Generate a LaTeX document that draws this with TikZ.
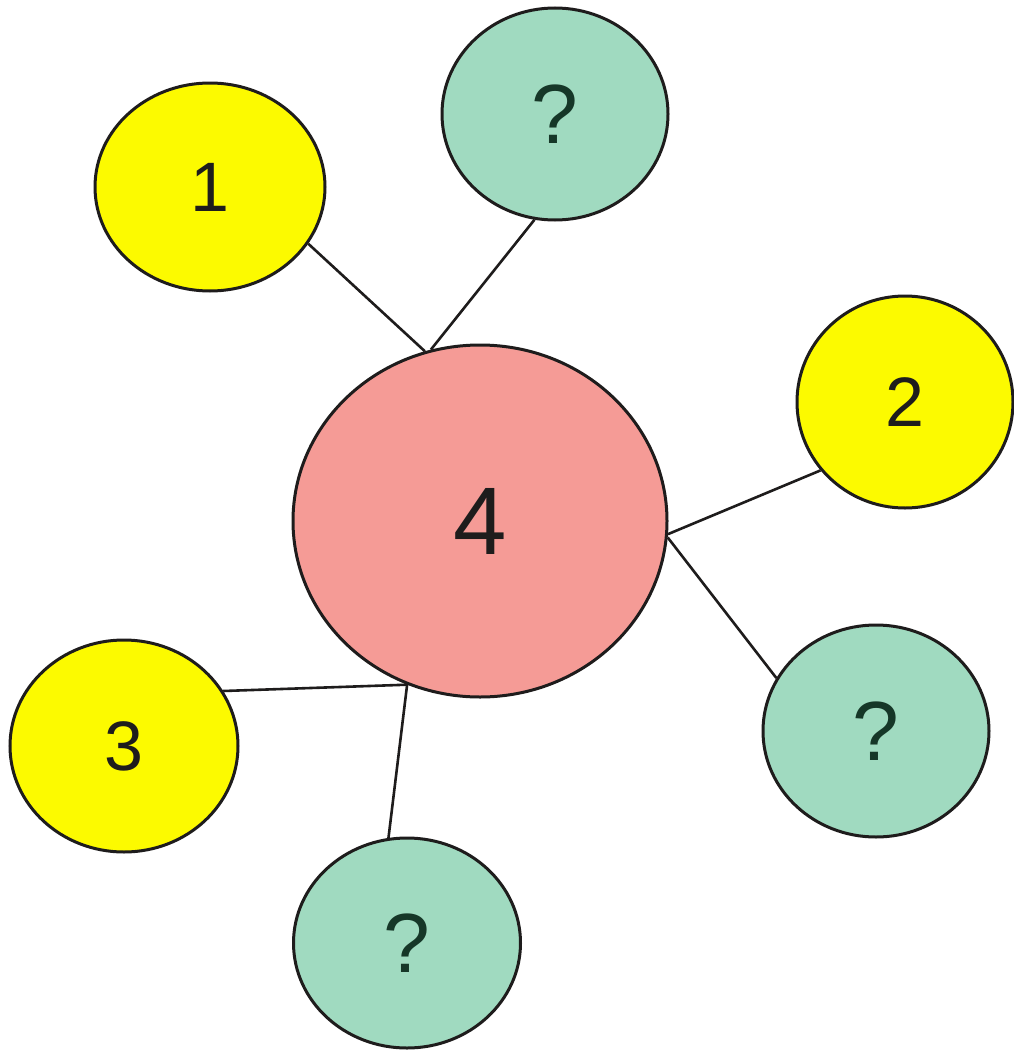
\documentclass[tikz,border=0pt]{standalone}
\usepackage{fontspec}
\setmainfont{Liberation Sans}
\usetikzlibrary{shapes.geometric}
\definecolor{yel}{RGB}{252,250,0}
\definecolor{pinkc}{RGB}{245,155,150}
\definecolor{teal}{RGB}{160,218,192}
\definecolor{ink}{RGB}{30,28,28}
\definecolor{qink}{RGB}{22,55,40}
\tikzset{
  bub/.style={ellipse, draw=ink, line width=3pt, inner sep=0pt},
  ybub/.style={bub, fill=yel, text=ink, font=\fontsize{70}{80}\selectfont},
  qbub/.style={bub, fill=teal, text=qink, font=\fontsize{84}{96}\selectfont},
  bigbub/.style={bub, fill=pinkc, text=ink, font=\fontsize{96}{110}\selectfont},
  link/.style={draw=ink, line width=2.6pt}
}
\begin{document}
\begin{tikzpicture}[x=1pt,y=-1pt]
\useasboundingbox (0,0) rectangle (1014,1052);
\fill[white] (0,0) rectangle (1014,1052);
\node[bigbub, minimum width=374pt, minimum height=352pt] (c4) at (480,521) {4};
\node[ybub, minimum width=230pt, minimum height=208pt] (c1) at (210,187) {1};
\node[qbub, minimum width=226pt, minimum height=212pt] (qt) at (555,114) {?};
\node[ybub, minimum width=216pt, minimum height=212pt] (c2) at (905,402) {2};
\node[ybub, minimum width=228pt, minimum height=212pt] (c3) at (124,746) {3};
\node[qbub, minimum width=226pt, minimum height=212pt] (qr) at (876,731) {?};
\node[qbub, minimum width=227pt, minimum height=210pt] (qb) at (407,943) {?};
\draw[link] (c1.-30) -- (c4.108);
\draw[link] (qt.259) -- (c4.106);
\draw[link] (c2.219) -- (c4.-4);
\draw[link] (c4.-5) -- (qr.152);
\draw[link] (c3.29) -- (c4.246);
\draw[link] (c4.246) -- (qb.100);
\end{tikzpicture}
\end{document}
